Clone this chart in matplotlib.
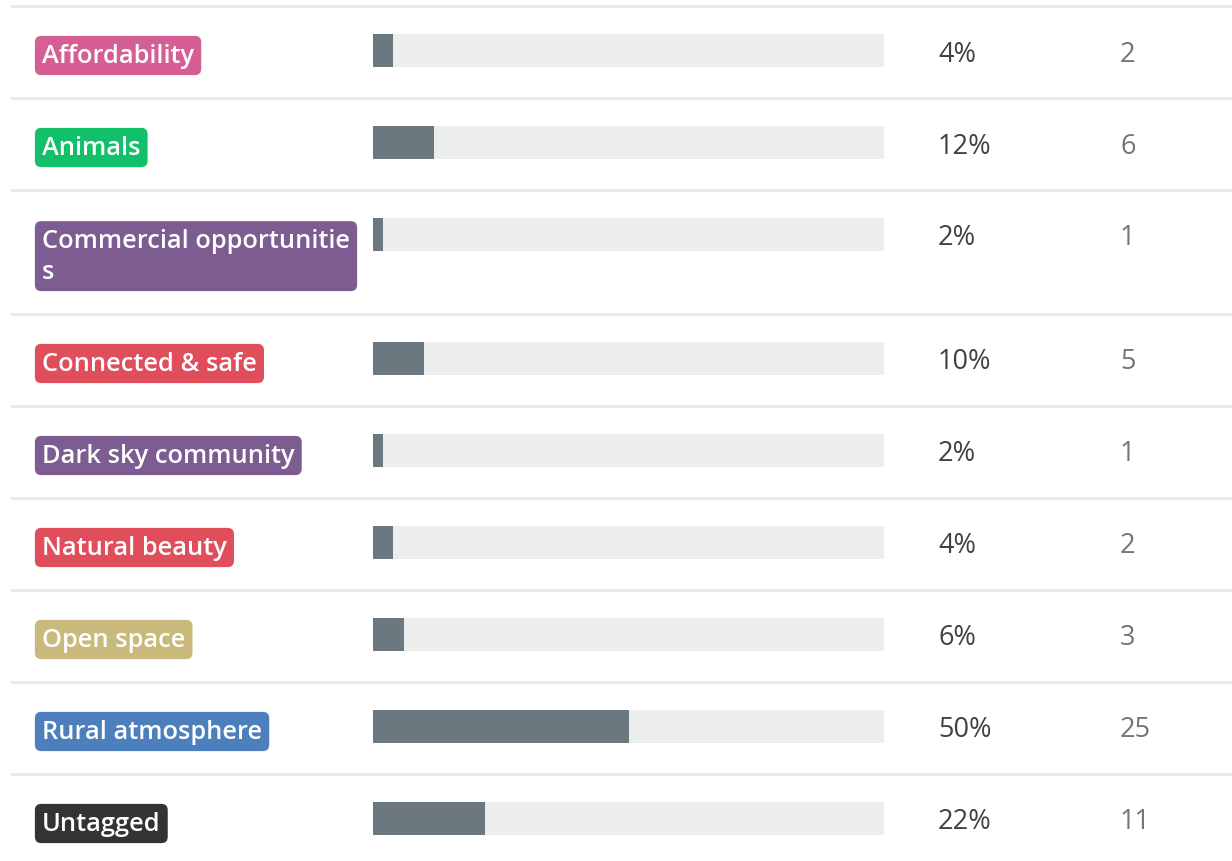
import matplotlib
matplotlib.use("Agg")
import matplotlib.pyplot as plt

categories = ["Affordability", "Animals", "Commercial opportunitie\ns", "Connected & safe",
              "Dark sky community", "Natural beauty", "Open space", "Rural atmosphere", "Untagged"]
percents = [4, 12, 2, 10, 2, 4, 6, 50, 22]
counts = [2, 6, 1, 5, 1, 2, 3, 25, 11]
tag_colors = ["#d55f92", "#12bf6a", "#7d5c91", "#e04e5c", "#7d5c91", "#e04e5c", "#c9b97a", "#4d7fbd", "#333333"]

# layout (pixels)
W, H = 1232, 862
row_heights = [92, 92, 124, 92, 92, 92, 92, 92, 92]
first_sep = 7
line_px = 32

fig = plt.figure(figsize=(W / 100, H / 100), dpi=100)
ax = fig.add_axes([0, 0, 1, 1])
ax.set_xlim(0, W)
ax.set_ylim(H, 0)
ax.axis("off")

bx = fig.add_axes([373 / W, 0, 511 / W, 1])
bx.set_xlim(0, 100)
bx.set_ylim(H, 0)
bx.axis("off")

font = "Open Sans"
sep = first_sep
for i, (cat, p, c, col) in enumerate(zip(categories, percents, counts, tag_colors)):
    ax.plot([10, W], [sep, sep], color="#e9ebeb", lw=2, solid_capstyle="butt")
    top = sep + 28
    yc = top + 16.5
    bx.barh(yc, 100, height=33, color="#eceeed", edgecolor="none")
    bx.barh(yc, p, height=33, color="#6b7880", edgecolor="none")
    nlines = cat.count("\n")
    ax.text(42, top + 28 + nlines * line_px, cat, color="white", fontsize=18.3, family=font,
            weight=600, va="baseline", ha="left", linespacing=1.3,
            bbox=dict(boxstyle="round,pad=0.28,rounding_size=0.25", fc=col, ec="none"))
    ax.text(938, top + 26.5, f"{p}%", color="#3e4245", fontsize=19.5, family=font,
            va="baseline", ha="left")
    ax.text(1120, top + 26.5, f"{c}", color="#71767a", fontsize=19.5, family=font,
            va="baseline", ha="left")
    sep += row_heights[i]

fig.savefig("out.png", dpi=100)
